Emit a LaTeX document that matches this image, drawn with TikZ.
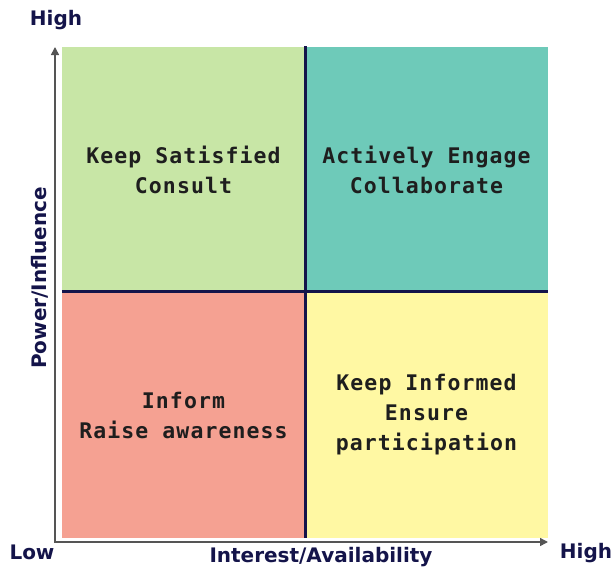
\documentclass[tikz,border=0pt]{standalone}
\usepackage{fontspec}
\setmainfont{DejaVu Sans}
\newfontfamily\labelfont{DejaVu Sans}
\newfontfamily\quadfont{DejaVu Sans Mono}[LetterSpace=5]
\usetikzlibrary{arrows.meta}
\definecolor{navy}{HTML}{14144A}
\definecolor{axisgray}{HTML}{555555}
\definecolor{qgreen}{HTML}{C8E6A6}
\definecolor{qteal}{HTML}{6ECAB9}
\definecolor{qpink}{HTML}{F5A192}
\definecolor{qyellow}{HTML}{FFF8A3}
\definecolor{quadtext}{HTML}{1E1E1E}
\begin{document}
\begin{tikzpicture}[x=1pt,y=-1pt,
  quad/.style={draw=none, minimum width=243pt, minimum height=246pt, inner sep=0pt,
    align=center, text=quadtext, font=\quadfont\bfseries\fontsize{21.5}{30}\selectfont},
  axislabel/.style={text=navy, inner sep=0pt, font=\labelfont\bfseries\fontsize{20}{25}\selectfont},
  axis/.style={draw=axisgray, line width=1.5pt, {Triangle[length=8pt,width=8pt]}-{Triangle[length=8pt,width=8pt]}},
  divider/.style={draw=navy, line width=3pt}]
  \useasboundingbox (0,0) rectangle (614,571);

  % four quadrants
  \node[quad, fill=qgreen]  (ks) at (183.5,169.5) {Keep Satisfied\\Consult};
  \node[quad, fill=qteal]   (ae) at (426.5,169.5) {Actively Engage\\Collaborate};
  \node[quad, fill=qpink]   (in) at (183.5,415)   {Inform\\Raise awareness};
  \node[quad, fill=qyellow] (ki) at (426.5,415)   {Keep Informed\\Ensure\\participation};

  % dividing lines between the quadrants
  \draw[divider] (ks.north east) -- (in.south east);
  \draw[divider] (in.north west) -- (ki.north east);

  % axes
  \coordinate (origin) at (55,542);
  \coordinate (ytip) at (55,47);
  \coordinate (xtip) at (548,542);
  \draw[axis] (ytip) -- (origin) -- (xtip);

  % axis labels
  \node[axislabel] (yhigh) at (56,20) {High};
  \node[axislabel] (xlow) at (32,552) {Low};
  \node[axislabel] (xhigh) at (586,553) {High};
  \node[axislabel] (xname) at (321,557) {Interest/Availability};
  \node[axislabel, rotate=90] (yname) at (40,278) {Power/Influence};
\end{tikzpicture}
\end{document}
